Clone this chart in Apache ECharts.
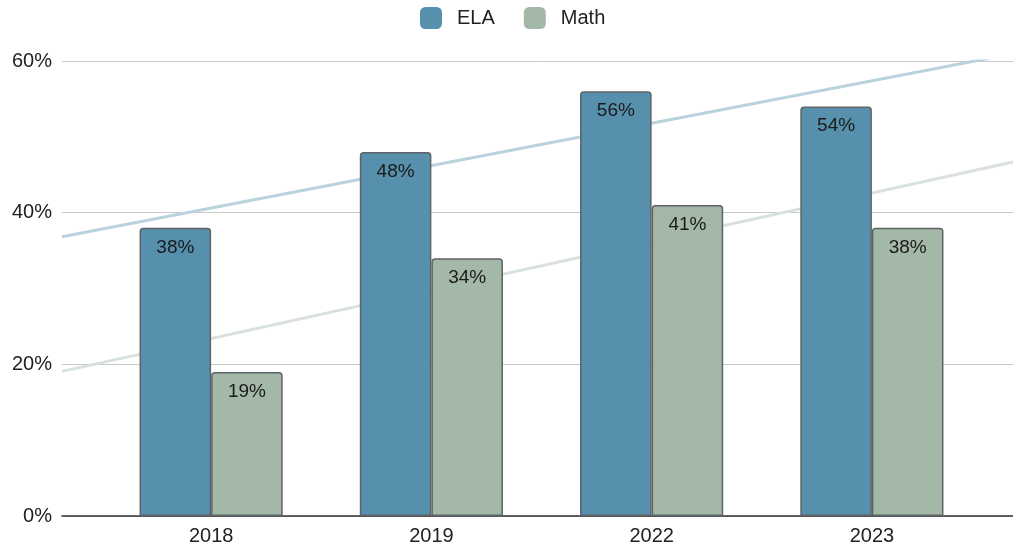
<!DOCTYPE html>
<html>
<head>
<meta charset="utf-8">
<script src="https://cdn.jsdelivr.net/npm/echarts@6/dist/echarts.min.js"></script>
<style>
  html, body { margin: 0; padding: 0; background: #fff; }
  #chart { width: 1013px; height: 552px; }
</style>
</head>
<body>
<div id="chart"></div>
<script>
const years = ['2018', '2019', '2022', '2023'];
const ela = [38, 48, 56, 54];
const math = [19, 34, 41, 38];

// least squares trendline over the category index, like the spreadsheet does
function trend(vals) {
  const n = vals.length;
  const mx = (n - 1) / 2;
  const my = vals.reduce((a, b) => a + b, 0) / n;
  let num = 0, den = 0;
  vals.forEach((v, i) => { num += (i - mx) * (v - my); den += (i - mx) * (i - mx); });
  const k = num / den;
  return [k, my - k * mx];
}

// index range visible across the full plot width
const xMin = -0.676, xMax = 3.637;
function trendPoints(vals) {
  const [k, b] = trend(vals);
  return [[xMin, b + k * xMin], [xMax, b + k * xMax]];
}

const chart = echarts.init(document.getElementById('chart'));
const font = '"Liberation Sans", Arial, sans-serif';

chart.setOption({
  animation: false,
  textStyle: { fontFamily: font },
  legend: {
    data: ['ELA', 'Math'],
    top: 2,
    left: 415,
    itemWidth: 22,
    itemHeight: 22,
    itemGap: 29,
    icon: 'roundRect',
    itemStyle: { borderWidth: 0 },
    textStyle: { fontSize: 20, color: '#222', fontFamily: font, padding: [0, 0, 0, 10] }
  },
  grid: [
    { left: 62, right: 0, top: 61, bottom: 36 },
    { left: 101, right: 31, top: 61, bottom: 36 }
  ],
  xAxis: [
    {
      type: 'value', gridIndex: 0, min: xMin, max: xMax,
      axisLine: { show: true, onZero: false, lineStyle: { color: '#333', width: 1.5 } },
      axisTick: { show: false }, axisLabel: { show: false }, splitLine: { show: false }
    },
    {
      type: 'category', gridIndex: 1, data: years,
      axisLine: { show: false }, axisTick: { show: false },
      axisLabel: { fontSize: 20, color: '#222', margin: 10 }
    }
  ],
  yAxis: [
    {
      type: 'value', gridIndex: 0, min: 0, max: 60, interval: 20,
      axisLine: { show: false }, axisTick: { show: false },
      axisLabel: { fontSize: 20, color: '#222', margin: 10, formatter: '{value}%' },
      splitLine: { lineStyle: { color: '#c8c8c8', width: 1 } }
    },
    { type: 'value', gridIndex: 1, min: 0, max: 60, show: false }
  ],
  series: [
    {
      name: 'ELA trend', type: 'line', xAxisIndex: 0, yAxisIndex: 0,
      data: trendPoints(ela), symbol: 'none', clip: true, z: 1, silent: true,
      lineStyle: { color: '#b9d2de', width: 3 }
    },
    {
      name: 'Math trend', type: 'line', xAxisIndex: 0, yAxisIndex: 0,
      data: trendPoints(math), symbol: 'none', clip: true, z: 1, silent: true,
      lineStyle: { color: '#d9e1db', width: 3 }
    },
    {
      name: 'ELA', type: 'bar', xAxisIndex: 1, yAxisIndex: 1, data: ela,
      barGap: '0%', barCategoryGap: '35%', z: 3,
      itemStyle: { color: '#5690ad', borderColor: '#5f6266', borderWidth: 1.5, borderRadius: [3, 3, 0, 0] },
      label: { show: true, position: 'insideTop', distance: 10, formatter: '{c}%', fontSize: 19, color: '#1a1a1a' }
    },
    {
      name: 'Math', type: 'bar', xAxisIndex: 1, yAxisIndex: 1, data: math, z: 3,
      itemStyle: { color: '#a4b8a8', borderColor: '#5f6266', borderWidth: 1.5, borderRadius: [3, 3, 0, 0] },
      label: { show: true, position: 'insideTop', distance: 10, formatter: '{c}%', fontSize: 19, color: '#1a1a1a' }
    }
  ]
});
</script>
</body>
</html>
